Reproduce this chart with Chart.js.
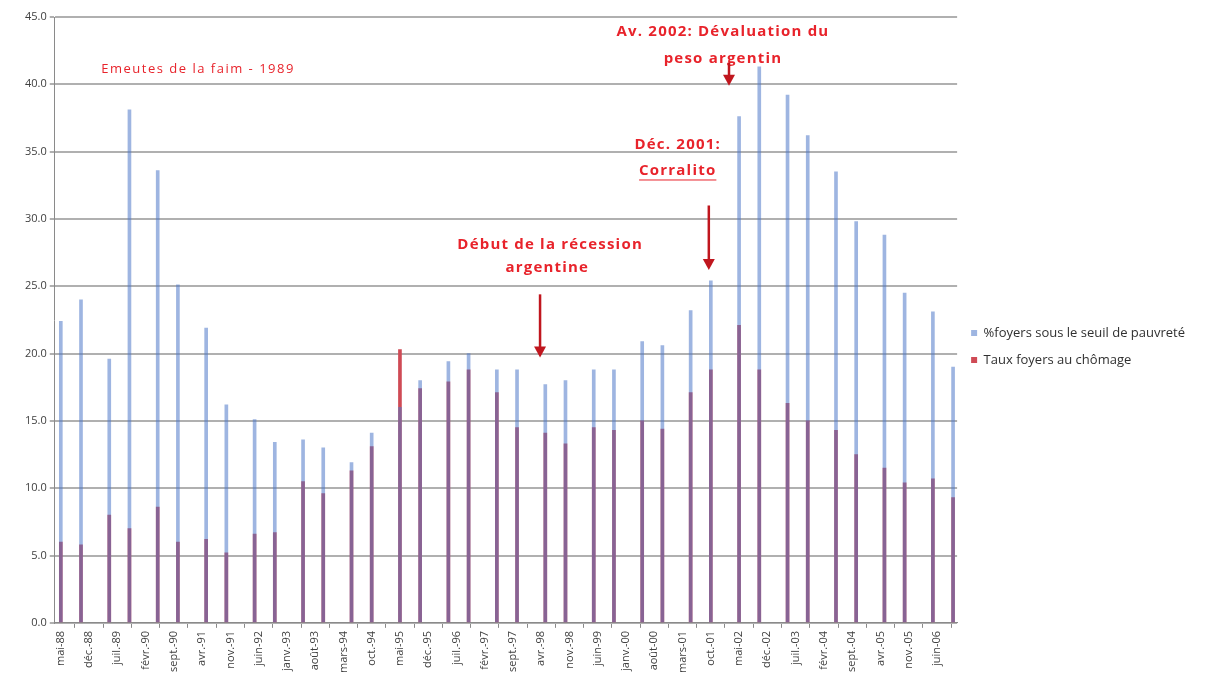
<!DOCTYPE html>
<html>
<head>
<meta charset="utf-8">
<script src="https://cdn.jsdelivr.net/npm/chart.js@4"></script>
<style>
    html, body { margin: 0; padding: 0; background: #fff; }
    #wrap { width: 1210px; height: 695px; }
</style>
</head>
<body>
<div id="wrap"><canvas id="chartPauvrete"></canvas></div>
<script>
// dates des enquetes (mai / octobre)
const surveyDates = [
    'mai-88', 'oct.-88', 'mai-89', 'oct.-89', 'mai-90', 'oct.-90', 'mai-91', 'oct.-91',
    'mai-92', 'oct.-92', 'mai-93', 'oct.-93', 'mai-94', 'oct.-94', 'mai-95', 'oct.-95',
    'mai-96', 'oct.-96', 'mai-97', 'oct.-97', 'mai-98', 'oct.-98', 'mai-99', 'oct.-99',
    'mai-00', 'oct.-00', 'mai-01', 'oct.-01', 'mai-02', 'oct.-02', 'mai-03', 'oct.-03',
    'mai-04', 'oct.-04', 'mai-05', 'oct.-05', 'mai-06', 'oct.-06'
];
const pauvrete = [
    22.4, 24.0, 19.6, 38.1, 33.6, 25.1, 21.9, 16.2,
    15.1, 13.4, 13.6, 13.0, 11.9, 14.1, 16.0, 18.0,
    19.4, 20.0, 18.8, 18.8, 17.7, 18.0, 18.8, 18.8,
    20.9, 20.6, 23.2, 25.4, 37.6, 41.3, 39.2, 36.2,
    33.5, 29.8, 28.8, 24.5, 23.1, 19.0
];
const chomage = [
    6.0, 5.8, 8.0, 7.0, 8.6, 6.0, 6.2, 5.2,
    6.6, 6.7, 10.5, 9.6, 11.3, 13.1, 20.3, 17.4,
    17.9, 18.8, 17.1, 14.5, 14.1, 13.3, 14.5, 14.3,
    15.0, 14.4, 17.1, 18.8, 22.1, 18.8, 16.3, 15.0,
    14.3, 12.5, 11.5, 10.4, 10.7, 9.3
];
const tickLabels = [
    'mai-88', 'déc.-88', 'juil.-89', 'févr.-90', 'sept.-90', 'avr.-91', 'nov.-91', 'juin-92',
    'janv.-93', 'août-93', 'mars-94', 'oct.-94', 'mai-95', 'déc.-95', 'juil.-96', 'févr.-97',
    'sept.-97', 'avr.-98', 'nov.-98', 'juin-99', 'janv.-00', 'août-00', 'mars-01', 'oct.-01',
    'mai-02', 'déc.-02', 'juil.-03', 'févr.-04', 'sept.-04', 'avr.-05', 'nov.-05', 'juin-06'
];
const yTicks = [0, 5, 10, 15, 20, 25, 30, 35, 40, 45];

const moisFr = ['janv.', 'févr.', 'mars', 'avr.', 'mai', 'juin', 'juil.', 'août', 'sept.', 'oct.', 'nov.', 'déc.'];
function toMonth(label) {
    const parts = label.split('-');
    let an = +parts[1];
    an += an < 50 ? 2000 : 1900;
    return an * 12 + moisFr.indexOf(parts[0]);
}
const mois = surveyDates.map(toMonth);
const tickMonths = tickLabels.map(toMonth);

const rouge = '#E8232B';
const rougeFonce = '#C0161E';

// textes + fleches (en coordonnees des axes, mois depuis mai-88)
const annotations = {
    id: 'annotations',
    afterDatasetsDraw(chart) {
        const ctx = chart.ctx;
        const x = chart.scales.x, y = chart.scales.y;
        const m0 = mois[0];
        const px = (mm) => x.getPixelForValue(m0 + mm);
        const py = (v) => y.getPixelForValue(v);
        ctx.save();
        ctx.fillStyle = rouge;
        ctx.textAlign = 'center';
        ctx.textBaseline = 'middle';

        ctx.font = '13px "Open Sans"';
        ctx.letterSpacing = '1.5px';
        ctx.fillText('Emeutes de la faim - 1989', px(34), py(41.1));

        ctx.font = 'bold 15px "Open Sans"';
        ctx.letterSpacing = '1.2px';
        ctx.fillText('Av. 2002: Dévaluation du', px(164), py(43.9));
        ctx.fillText('peso argentin', px(164), py(41.9));

        ctx.fillText('Déc. 2001:', px(152.8), py(35.5));
        ctx.fillText('Corralito', px(152.8), py(33.6));
        const w = ctx.measureText('Corralito').width;
        ctx.fillRect(px(152.8) - w / 2, py(33.6) + 9, w, 1);

        ctx.fillText('Début de la récession', px(121.2), py(28.1));
        ctx.fillText('argentine', px(120.5), py(26.4));

        const fleche = (mm, y0, y1) => {
            const fx = px(mm);
            const p0 = py(y0), p1 = py(y1);
            ctx.strokeStyle = rougeFonce;
            ctx.fillStyle = rougeFonce;
            ctx.lineWidth = 2.5;
            ctx.beginPath();
            ctx.moveTo(fx, p0);
            ctx.lineTo(fx, p1 - 8);
            ctx.stroke();
            ctx.beginPath();
            ctx.moveTo(fx - 6, p1 - 11);
            ctx.lineTo(fx + 6, p1 - 11);
            ctx.lineTo(fx, p1);
            ctx.closePath();
            ctx.fill();
        };
        fleche(118.7, 24.4, 19.7);
        fleche(160.5, 31.0, 26.2);
        fleche(165.5, 41.6, 39.9);
        ctx.restore();
    }
};

const config = {
    type: 'bar',
    data: {
        datasets: [
            {
                label: '%foyers sous le seuil de pauvreté',
                data: mois.map((mm, i) => ({x: mm, y: pauvrete[i]})),
                backgroundColor: 'rgba(79, 120, 200, 0.55)',
                barThickness: 3,
                grouped: false,
                order: 1
            },
            {
                label: 'Taux foyers au chômage',
                data: mois.map((mm, i) => ({x: mm, y: chomage[i]})),
                backgroundColor: '#CF4A55',
                barThickness: 3,
                grouped: false,
                order: 2
            }
        ]
    },
    options: {
        responsive: true,
        maintainAspectRatio: false,
        animation: false,
        layout: {
            padding: {top: 17, right: 15, left: 22, bottom: 19}
        },
        scales: {
            x: {
                type: 'linear',
                offset: false,
                min: mois[0] - 1.5,
                max: mois[mois.length - 1] + 1,
                afterBuildTicks: (scale) => {
                    scale.ticks = tickMonths.map(v => ({value: v}));
                },
                grid: {
                    drawOnChartArea: false,
                    color: '#8a8a8a',
                    tickLength: 5
                },
                border: {color: '#8a8a8a'},
                ticks: {
                    autoSkip: false,
                    minRotation: 90,
                    maxRotation: 90,
                    font: {family: '"Open Sans"', size: 11},
                    color: '#404040',
                    callback: function (value) {
                        const i = tickMonths.indexOf(value);
                        return i >= 0 ? tickLabels[i] : '';
                    }
                }
            },
            y: {
                min: 0,
                max: 45,
                afterBuildTicks: (scale) => {
                    scale.ticks = yTicks.map(v => ({value: v}));
                },
                grid: {
                    color: '#b0b0b0',
                    lineWidth: 2,
                    tickLength: 5
                },
                border: {color: '#8a8a8a', width: 1},
                ticks: {
                    font: {family: '"Open Sans"', size: 11},
                    color: '#404040',
                    callback: function (value) {
                        return value.toFixed(1);
                    }
                }
            }
        },
        plugins: {
            legend: {
                position: 'right',
                labels: {
                    boxWidth: 6,
                    boxHeight: 6,
                    padding: 14,
                    font: {family: '"Open Sans"', size: 13},
                    color: '#303030'
                }
            },
            tooltip: {enabled: false}
        }
    },
    plugins: [annotations]
};

const chartPauvrete = new Chart(document.getElementById('chartPauvrete'), config);
</script>
</body>
</html>
